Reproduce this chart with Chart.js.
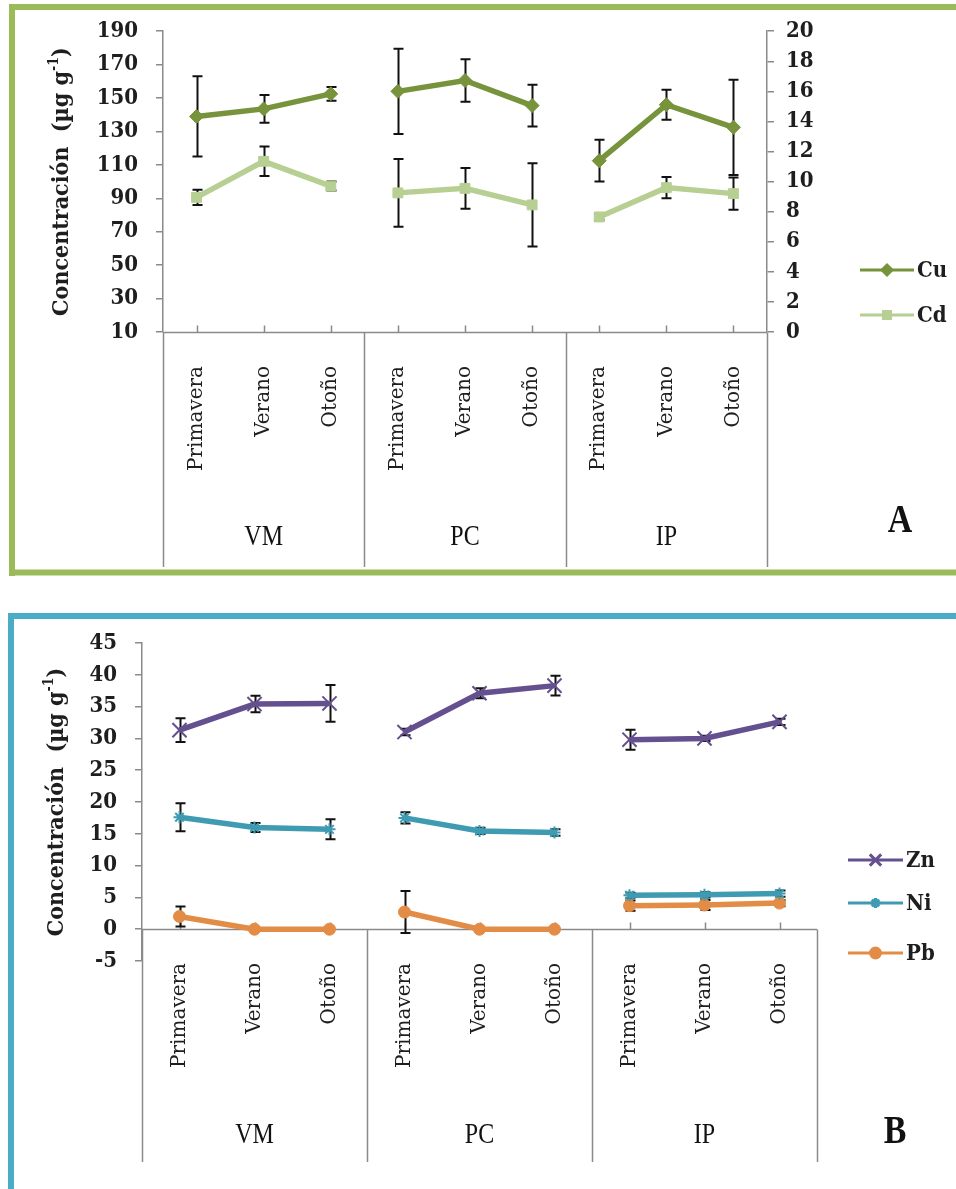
<!DOCTYPE html>
<html>
<head>
<meta charset="utf-8">
<script src="https://cdn.jsdelivr.net/npm/chart.js@4/dist/chart.umd.min.js"></script>
<style>
  html, body { margin: 0; padding: 0; background: #fff; }
  #wrap { position: relative; width: 956px; height: 1189px; overflow: hidden; }
  canvas { position: absolute; left: 0; }
  #cA { top: 0; }
  #cB { top: 580px; }
</style>
</head>
<body>
<div id="wrap">
  <canvas id="cA" width="956" height="580"></canvas>
  <canvas id="cB" width="956" height="609"></canvas>
</div>
<script>
// Sampling sites and seasons
const sites = ['VM', 'PC', 'IP'];
const seasons = ['Primavera', 'Verano', 'Otoño'];
const categories = sites.flatMap(() => seasons);

// Panel A: Cu (left axis) and Cd (right axis), µg g-1, mean and SD
const cuValues = [139, 143.5, 152.5, 154, 160.5, 145.5, 112.5, 146, 132.5];
const cuErr    = [24, 8.3, 4.1, 25.5, 12.7, 12.5, 12.5, 9, 28.5];
const cdValues = [8.95, 11.35, 9.7, 9.25, 9.55, 8.45, 7.65, 9.6, 9.2];
const cdErr    = [0.5, 0.98, 0.3, 2.25, 1.36, 2.77, 0.2, 0.7, 1.07];

// Panel B: Zn, Ni, Pb, µg g-1, mean and SD
const znValues = [31.3, 35.4, 35.5, 31.0, 37.1, 38.3, 29.8, 30.0, 32.6];
const znErr    = [1.85, 1.3, 2.9, 0.5, 0.8, 1.57, 1.57, 0.4, 0.5];
const niValues = [17.6, 16.0, 15.7, 17.5, 15.45, 15.2, 5.35, 5.4, 5.6];
const niErr    = [2.2, 0.7, 1.57, 0.87, 0.5, 0.5, 0.4, 0.4, 0.5];
const pbValues = [2.0, 0, 0, 2.7, 0, 0, 3.7, 3.8, 4.1];
const pbErr    = [1.57, 0, 0, 3.3, 0, 0, 0.8, 0.8, 0.5];

// Axis tick settings
const cuAxis = { min: 10, max: 190, step: 20 };
const cdAxis = { min: 0, max: 20, step: 2 };
const bAxis  = { min: -5, max: 45, step: 5 };

const SERIF_B = '"DejaVu Serif Condensed", "DejaVu Serif", serif';
const SERIF = '"DejaVu Serif", serif';
const AXIS = '#8a8a8a';
const TXT = '#1e1e1e';

const COLORS = {
  Cu: '#77933C', Cd: '#B7CF92',
  Zn: '#64508F', Ni: '#3E9BB1', Pb: '#E38C45'
};

// break the line between sites
const gapped = color => ({
  borderColor: c => (c.p0DataIndex % 3 === 2 ? 'rgba(0,0,0,0)' : color)
});

function drawYTitle(ctx, cx, cy) {
  ctx.save();
  ctx.translate(cx, cy);
  ctx.rotate(-Math.PI / 2);
  const main = 'bold 23px ' + SERIF_B, sup = 'bold 14px ' + SERIF_B;
  const p1 = 'Concentración  (µg g', p2 = '-1', p3 = ')';
  ctx.font = main; const w1 = ctx.measureText(p1).width; const w3 = ctx.measureText(p3).width;
  ctx.font = sup; const w2 = ctx.measureText(p2).width;
  let x = -(w1 + w2 + w3) / 2;
  ctx.fillStyle = TXT; ctx.textBaseline = 'middle'; ctx.textAlign = 'left';
  ctx.font = main; ctx.fillText(p1, x, 0); x += w1;
  ctx.font = sup; ctx.fillText(p2, x, -8); x += w2;
  ctx.font = main; ctx.fillText(p3, x, 0);
  ctx.restore();
}

function drawNarrow(ctx, text, cx, cy, font, sx) {
  ctx.save();
  ctx.translate(cx, cy);
  ctx.scale(sx, 1);
  ctx.font = font; ctx.fillStyle = '#111';
  ctx.textAlign = 'center'; ctx.textBaseline = 'middle';
  ctx.fillText(text, 0, 0);
  ctx.restore();
}

function panelPlugin(cfg) {
  return {
    id: 'panel' + cfg.letter,
    beforeDraw(chart) {
      const ctx = chart.ctx;
      ctx.save();
      ctx.fillStyle = '#fff';
      ctx.fillRect(0, 0, chart.width, chart.height);
      ctx.strokeStyle = cfg.frameColor; ctx.lineWidth = 6;
      ctx.beginPath();
      cfg.frame.forEach(seg => {
        ctx.moveTo(seg[0], seg[1]); ctx.lineTo(seg[2], seg[3]);
      });
      ctx.stroke();
      ctx.restore();
    },
    beforeDatasetsDraw(chart) {
      const ctx = chart.ctx, xs = chart.scales.x, area = chart.chartArea;
      const yMain = chart.scales.y;
      const axisY = Math.round(yMain.getPixelForValue(cfg.axisAt)) + 0.5;
      ctx.save();
      ctx.strokeStyle = AXIS; ctx.lineWidth = 1.5;
      ctx.beginPath();
      // horizontal category axis
      ctx.moveTo(area.left, axisY); ctx.lineTo(area.right, axisY);
      // tick marks at each category
      categories.forEach((_, i) => {
        const x = Math.round(xs.getPixelForValue(i)) + 0.5;
        ctx.moveTo(x, axisY); ctx.lineTo(x, axisY - 7);
      });
      // site dividers
      for (let g = 0; g <= sites.length; g++) {
        const x = Math.round(area.left + (area.right - area.left) * g / sites.length) + 0.5;
        ctx.moveTo(x, axisY); ctx.lineTo(x, cfg.dividerBottom);
      }
      ctx.stroke();

      // error bars
      ctx.strokeStyle = '#111'; ctx.lineWidth = 2;
      cfg.errors.forEach((errs, di) => {
        const meta = chart.getDatasetMeta(di);
        const ys = chart.scales[meta.yAxisID];
        const vals = chart.data.datasets[di].data;
        errs.forEach((e, i) => {
          if (!e) return;
          const x = Math.round(xs.getPixelForValue(i)) + 0.5;
          const yt = ys.getPixelForValue(vals[i] + e);
          const yb = ys.getPixelForValue(vals[i] - e);
          ctx.beginPath();
          ctx.moveTo(x, yt); ctx.lineTo(x, yb);
          ctx.moveTo(x - 5, yt); ctx.lineTo(x + 5, yt);
          ctx.moveTo(x - 5, yb); ctx.lineTo(x + 5, yb);
          ctx.stroke();
        });
      });
      ctx.restore();
    },
    afterDraw(chart) {
      const ctx = chart.ctx, area = chart.chartArea;
      drawYTitle(ctx, cfg.titleX, (area.top + area.bottom) / 2);
      // site labels
      sites.forEach((s, g) => {
        const cx = area.left + (area.right - area.left) * (g + 0.5) / sites.length;
        drawNarrow(ctx, s, cx, cfg.siteY, '30px "Liberation Serif", serif', 0.8);
      });
      drawNarrow(ctx, cfg.letter, cfg.letterX, cfg.letterY, 'bold 40px "Liberation Serif", serif', 0.85);
      // legend
      cfg.legend.forEach(item => {
        ctx.save();
        ctx.strokeStyle = item.color; ctx.fillStyle = item.color; ctx.lineWidth = 3;
        ctx.beginPath(); ctx.moveTo(cfg.legendX1, item.y); ctx.lineTo(cfg.legendX2, item.y); ctx.stroke();
        Chart.helpers.drawPoint(ctx, {
          pointStyle: item.style, radius: item.r, rotation: 0, borderWidth: item.bw
        }, (cfg.legendX1 + cfg.legendX2) / 2, item.y);
        ctx.font = 'bold 22px ' + SERIF_B; ctx.fillStyle = TXT;
        ctx.textAlign = 'left'; ctx.textBaseline = 'middle';
        ctx.fillText(item.name, cfg.legendX2 + 3, item.y + 1);
        ctx.restore();
      });
    }
  };
}

const yTicks = (axis, pad) => ({
  stepSize: axis.step, padding: pad, color: TXT,
  font: { family: SERIF_B, size: 22, weight: 'bold' }
});
const yGrid = { drawOnChartArea: false, tickLength: 7, color: AXIS, lineWidth: 1.5 };
const yBorder = { color: AXIS, width: 1.5 };
const xCat = (pad, h) => ({
  type: 'category', offset: true,
  grid: { display: false }, border: { display: false },
  ticks: { autoSkip: false, minRotation: 90, maxRotation: 90, padding: pad, color: TXT,
           font: { family: SERIF, size: 20 } },
  afterFit(s) { s.height = h; }
});

const lineSet = (label, data, color, style, r, bw, axisId) => ({
  label, data, yAxisID: axisId,
  borderColor: color, backgroundColor: color,
  borderWidth: 5.5, pointStyle: style, pointRadius: r, pointBorderWidth: bw,
  pointBorderColor: color, pointBackgroundColor: color,
  segment: gapped(color), tension: 0
});

// Panel A
new Chart(document.getElementById('cA'), {
  type: 'line',
  data: {
    labels: categories,
    datasets: [
      lineSet('Cu', cuValues, COLORS.Cu, 'rectRot', 7, 1, 'y'),
      lineSet('Cd', cdValues, COLORS.Cd, 'rect', 7, 1, 'y2')
    ]
  },
  options: {
    responsive: false, animation: false, events: [],
    layout: { padding: { top: 25, left: 0, right: 0, bottom: 0 } },
    plugins: { legend: { display: false }, tooltip: { enabled: false } },
    scales: {
      x: xCat(26, 248),
      y: { position: 'left', min: cuAxis.min, max: cuAxis.max, ticks: yTicks(cuAxis, 18),
           grid: yGrid, border: yBorder, afterFit(s) { s.width = 163; } },
      y2: { position: 'right', min: cdAxis.min, max: cdAxis.max, ticks: yTicks(cdAxis, 12),
            grid: yGrid, border: yBorder, afterFit(s) { s.width = 189; } }
    }
  },
  plugins: [panelPlugin({
    letter: 'A', frameColor: '#9BBB59',
    frame: [[9, 7, 956, 7], [12, 4, 12, 576], [9, 572.5, 956, 572.5]],
    axisAt: cuAxis.min, dividerBottom: 567,
    errors: [cuErr, cdErr],
    titleX: 62, siteY: 537, letterX: 900, letterY: 522,
    legendX1: 860, legendX2: 914,
    legend: [
      { name: 'Cu', color: COLORS.Cu, style: 'rectRot', r: 5, bw: 1, y: 270 },
      { name: 'Cd', color: COLORS.Cd, style: 'rect', r: 5, bw: 1, y: 315 }
    ]
  })]
});

// Panel B
new Chart(document.getElementById('cB'), {
  type: 'line',
  data: {
    labels: categories,
    datasets: [
      lineSet('Zn', znValues, COLORS.Zn, 'crossRot', 10, 2, 'y'),
      lineSet('Ni', niValues, COLORS.Ni, 'star', 6, 2, 'y'),
      lineSet('Pb', pbValues, COLORS.Pb, 'circle', 6, 1, 'y')
    ]
  },
  options: {
    responsive: false, animation: false, events: [],
    layout: { padding: { top: 63, left: 0, right: 139, bottom: 0 } },
    plugins: { legend: { display: false }, tooltip: { enabled: false } },
    scales: {
      x: xCat(-6, 228),
      y: { position: 'left', min: bAxis.min, max: bAxis.max, ticks: yTicks(bAxis, 18),
           grid: yGrid, border: yBorder, afterFit(s) { s.width = 142; } }
    }
  },
  plugins: [panelPlugin({
    letter: 'B', frameColor: '#4BACC6',
    frame: [[8, 36, 956, 36], [11, 33, 11, 609]],
    axisAt: 0, dividerBottom: 582,
    errors: [znErr, niErr, pbErr],
    titleX: 57, siteY: 555, letterX: 895, letterY: 553,
    legendX1: 848, legendX2: 903,
    legend: [
      { name: 'Zn', color: COLORS.Zn, style: 'crossRot', r: 8, bw: 2, y: 280 },
      { name: 'Ni', color: COLORS.Ni, style: 'star', r: 5, bw: 2, y: 323 },
      { name: 'Pb', color: COLORS.Pb, style: 'circle', r: 5, bw: 1, y: 373 }
    ]
  })]
});
</script>
</body>
</html>
